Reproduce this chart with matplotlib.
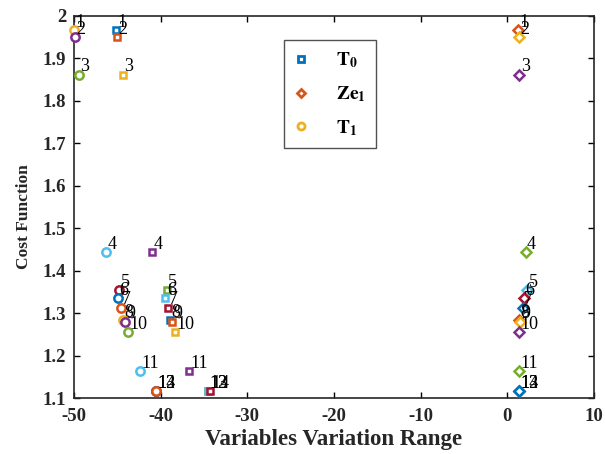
import matplotlib
matplotlib.use("Agg")
import matplotlib.pyplot as plt
from matplotlib.lines import Line2D

plt.rcParams['font.family'] = ['Liberation Serif', 'DejaVu Serif']
plt.rcParams['mathtext.fontset'] = 'stix'
plt.rcParams['axes.unicode_minus'] = False

# Data
labels = [str(i) for i in range(1, 15)]
cost = [1.966, 1.950, 1.862, 1.444, 1.355, 1.336, 1.313, 1.284, 1.280, 1.255, 1.164, 1.116, 1.116, 1.116]
t0_x = [-45.1, -45.0, -44.4, -41.0, -39.3, -39.45, -39.2, -38.9, -38.7, -38.3, -36.7, -34.5, -34.5, -34.3]
ze1_x = [1.2, 1.3, 1.4, 2.1, 2.3, 1.9, 1.8, 1.4, 1.5, 1.4, 1.4, 1.4, 1.4, 1.4]
t1_x = [-50.0, -49.9, -49.4, -46.3, -44.8, -44.9, -44.6, -44.3, -44.1, -43.8, -42.4, -40.5, -40.5, -40.5]
series_names = [r'$\mathbf{T_0}$', r'$\mathbf{Ze_1}$', r'$\mathbf{T_1}$']

colors = ['#0072BD', '#D95319', '#EDB120', '#7E2F8E', '#77AC30', '#4DBEEE', '#A2142F']

fig = plt.figure(figsize=(6.05, 4.54), dpi=100)
ax = fig.add_axes([0.1223, 0.1233, 0.8595, 0.8415])

series = [(t0_x, 's', 0, 5.0), (ze1_x, 'D', 1, 4.6), (t1_x, 'o', 2, 6.0)]
for xs, mk, off, ms in series:
    for i, (x, y) in enumerate(zip(xs, cost)):
        ax.plot([x], [y], linestyle='none', marker=mk, markersize=ms,
                markerfacecolor='white', markeredgecolor=colors[(i + off) % 7],
                markeredgewidth=1.8, clip_on=False, zorder=3)
        ax.annotate(labels[i], (x, y), xytext=(1.0, 5.5), textcoords='offset points',
                    ha='left', va='center', fontsize=13, color='black', zorder=4)

ax.set_xlim(-50, 10)
ax.set_ylim(1.1, 2.0)
ax.set_xticks(range(-50, 11, 10))
ax.set_yticks([1.1, 1.2, 1.3, 1.4, 1.5, 1.6, 1.7, 1.8, 1.9, 2.0])
ax.set_yticklabels(['1.1', '1.2', '1.3', '1.4', '1.5', '1.6', '1.7', '1.8', '1.9', '2'])
ax.tick_params(direction='in', top=True, right=True, length=4, width=1,
               labelsize=13.5)
ax.tick_params(axis='y', pad=5.5)
ax.tick_params(axis='x', pad=7)
for lab in ax.get_xticklabels() + ax.get_yticklabels():
    lab.set_fontweight('bold')
    lab.set_color('#262626')
for sp in ax.spines.values():
    sp.set_linewidth(1.2)
    sp.set_color('#262626')

ax.set_xlabel('Variables Variation Range', fontsize=16.5, fontweight='bold', color='#262626', labelpad=3)
ax.set_ylabel('Cost Function', fontsize=12.5, fontweight='bold', color='#262626')
ax.yaxis.set_label_coords(-0.08, 0.476)

handles = [Line2D([], [], linestyle='none', marker=m, markersize=s * 0.85,
                  markerfacecolor='white', markeredgecolor=colors[o], markeredgewidth=2)
           for (_, m, o, s) in series]
leg = fig.legend(handles, series_names, loc='upper left', bbox_to_anchor=(284 / 605, 1 - 40 / 454),
                 frameon=True, fancybox=False, edgecolor='#262626', fontsize=14,
                 handlelength=0.6, handletextpad=1.5, labelspacing=0.72, borderpad=0.55,
                 borderaxespad=0)
leg.get_frame().set_linewidth(1.0)

fig.savefig('out.png', dpi=100)
